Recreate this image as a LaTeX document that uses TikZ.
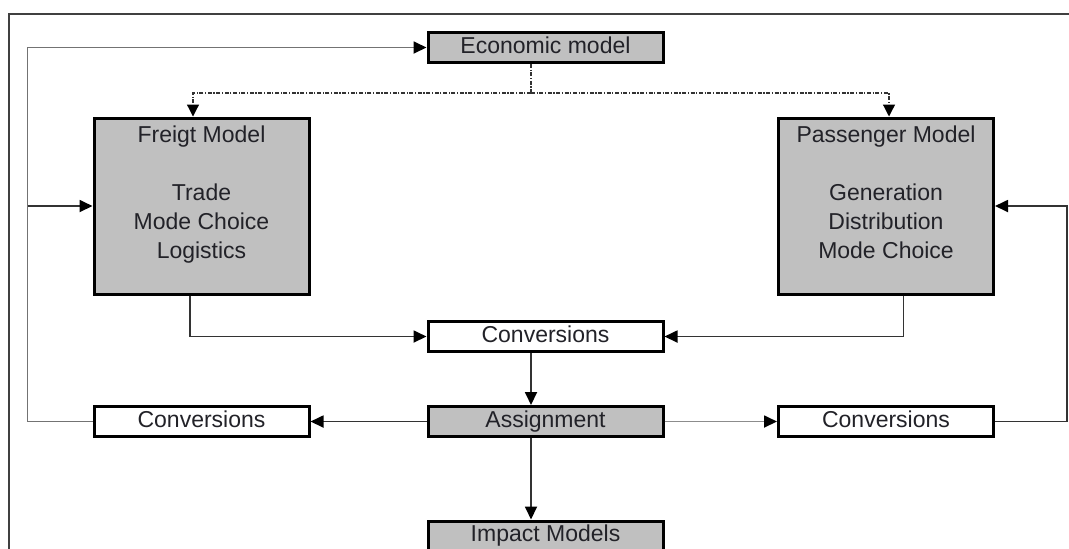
\documentclass[tikz,border=0pt]{standalone}
\usepackage{fontspec}
\setmainfont{Liberation Sans}
\usetikzlibrary{arrows.meta}
\definecolor{boxgray}{HTML}{C0C0C0}
\definecolor{inkc}{HTML}{222228}
\begin{document}
\begin{tikzpicture}[x=0.5pt,y=-0.5pt,
  every node/.style={font=\fontsize{11.5}{14.5}\selectfont, text=inkc},
  box/.style={draw=black, line width=1.5pt, rectangle, inner sep=0pt,
    minimum width=117.5pt, minimum height=15pt, text height=8.3pt, text depth=2.4pt},
  grbox/.style={box, fill=boxgray},
  whbox/.style={box, fill=white},
  bigbox/.style={draw=black, line width=1.5pt, fill=boxgray, rectangle, inner sep=0pt,
    minimum width=107.5pt, minimum height=88pt, align=center},
  conn/.style={draw=black!80, line width=0.9pt},
  arr/.style={conn, -{Triangle[length=6.5pt,width=6pt,color=black]}},
  lightarr/.style={arr, draw=black!45},
  dotarr/.style={draw=black!80, line width=0.6pt,
    dash pattern=on 2pt off 0.8pt on 0.6pt off 0.8pt,
    -{Triangle[length=6pt,width=6pt,color=black]}},
  frame/.style={draw=black!75, line width=0.8pt}
]
\useasboundingbox (0,0) rectangle (1069,548);
\clip (0,0) rectangle (1069,548);

% outer frame (only top and left edges fall inside the page)
\draw[frame] (9,560) -- (9,14) -- (1080,14);

% model boxes
\node[grbox] (econ) at (545.5,47.5) {Economic model};
\node[bigbox] (fr) at (201.5,206) {Freigt Model\\[14.5pt]Trade\\Mode Choice\\Logistics\\[-1pt]\mbox{}};
\node[bigbox] (pa) at (886,206) {Passenger Model\\[14.5pt]Generation\\Distribution\\Mode Choice\\[-1pt]\mbox{}};
\node[whbox] (convm) at (545.5,336.5) {Conversions};
\node[grbox] (assign) at (545.5,421.5) {Assignment};
\node[whbox, minimum width=107.5pt] (convl) at (201.5,421.5) {Conversions};
\node[whbox, minimum width=107.5pt] (convr) at (886,421.5) {Conversions};
\node[grbox] (impact) at (545.5,536) {Impact Models};

% guide columns for connectors
\coordinate (xc) at (531,0);
\coordinate (lcol) at (27.5,0);
\coordinate (rcol) at (1067,0);
\coordinate (dj) at (531,93);
\coordinate (fdrop) at (193,93);
\coordinate (pdrop) at (889,93);
\coordinate (fout) at (190,0);
\coordinate (pout) at (903.5,0);

% economic model feeds both demand models
\draw[dotarr, -] (xc |- econ.south) -- (dj);
\draw[dotarr] (dj) -- (fdrop) -- (fdrop |- fr.north);
\draw[dotarr] (dj) -- (pdrop) -- (pdrop |- pa.north);

% demand models into conversions
\draw[arr] (fout |- fr.south) |- (convm.west);
\draw[arr] (pout |- pa.south) |- (convm.east);
\draw[arr] (xc |- convm.south) -- (xc |- assign.north);

% assignment outputs
\draw[arr] (assign.west) -- (convl.east);
\draw[lightarr] (assign.east) -- (convr.west);
\draw[arr] (xc |- assign.south) -- (xc |- impact.north);

% feedback loops
\draw[arr, draw=black!55] (convl.west) -| (lcol |- econ.west) -- (econ.west);
\draw[arr] (lcol |- fr.west) -- (fr.west);
\draw[arr] (convr.east) -| (rcol |- pa.east) -- (pa.east);
\end{tikzpicture}
\end{document}
